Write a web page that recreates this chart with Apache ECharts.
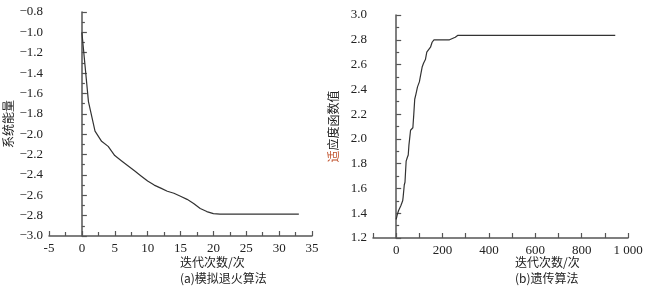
<!DOCTYPE html>
<html>
<head>
<meta charset="utf-8">
<script src="https://cdn.jsdelivr.net/npm/echarts@6/dist/echarts.min.js"></script>
<style>
html,body{margin:0;padding:0;background:#fff;}
#c{width:647px;height:292px;}
</style>
</head>
<body>
<div id="c"></div>
<script>
// (a) simulated annealing
const saIter = [0,1,2,3,4,5,6,7,8,9,10,11,12,13,14,15,16,17,18,19,20,21,22,23,24,25,26,27,28,29,30,31,32,33];
const saEnergy = [-1.00,-1.68,-1.97,-2.07,-2.12,-2.21,-2.26,-2.31,-2.36,-2.41,-2.46,-2.50,-2.53,-2.56,-2.58,-2.61,-2.64,-2.68,-2.73,-2.76,-2.78,-2.785,-2.785,-2.785,-2.785,-2.785,-2.785,-2.785,-2.785,-2.785,-2.785,-2.785,-2.785,-2.785];
// (b) genetic algorithm
const gaIter = [0,5,10,20,28,30,35,38,40,43,48,52,55,58,62,68,72,76,80,85,92,100,106,112,118,126,132,140,148,155,163,175,230,235,255,265,945];
const gaFit = [1.35,1.39,1.42,1.46,1.50,1.53,1.63,1.65,1.72,1.82,1.85,1.87,1.95,2.00,2.07,2.08,2.09,2.20,2.32,2.36,2.42,2.46,2.52,2.58,2.61,2.64,2.70,2.71,2.74,2.78,2.80,2.80,2.80,2.81,2.82,2.835,2.835];
const saXTicks = {min:-5, max:35, step:5};
const saYTicks = {min:-3.0, max:-0.8, step:0.2};
const gaXTicks = {min:-100, max:1000, step:100};
const gaYTicks = {min:1.2, max:3.0, step:0.2};

const serif = 'Liberation Serif';
const cjk = 'Noto Sans CJK SC';
const axisCol = '#555';
const txtCol = '#222';
const wrap = s => s === '' ? '' : '{s|' + s + '}';

function axisBase(){
  return {
    axisLine:{show:true,lineStyle:{color:axisCol,width:1.5}},
    axisTick:{show:true,inside:true,length:5,lineStyle:{color:axisCol,width:1.2}},
    splitLine:{show:false},
    axisLabel:{color:txtCol,fontFamily:serif,fontSize:13,margin:6,
      rich:{s:{fontFamily:serif,fontSize:13,color:txtCol}}}
  };
}

const chart = echarts.init(document.getElementById('c'), null, {renderer:'canvas'});
const option = {
  animation:false,
  backgroundColor:'#fff',
  textStyle:{fontFamily:serif},
  grid:[
    {left:49,right:335,top:12,bottom:56},
    {left:373,right:19,top:15,bottom:54}
  ],
  xAxis:[
    Object.assign(axisBase(),{
      type:'value',gridIndex:0,min:saXTicks.min,max:saXTicks.max,interval:saXTicks.step,
      minorTick:{show:true,splitNumber:2,length:4,lineStyle:{color:axisCol,width:1.2}}
    }),
    Object.assign(axisBase(),{
      type:'value',gridIndex:1,min:gaXTicks.min,max:gaXTicks.max,interval:gaXTicks.step,
    })
  ],
  yAxis:[
    Object.assign(axisBase(),{
      type:'value',gridIndex:0,min:saYTicks.min,max:saYTicks.max,interval:saYTicks.step,
      minorTick:{show:true,splitNumber:2,length:3,lineStyle:{color:axisCol,width:1.2}},
      name:'系统能量',nameLocation:'middle',nameGap:35,nameRotate:90,
      nameTextStyle:{fontFamily:cjk,fontSize:12,color:txtCol}
    }),
    Object.assign(axisBase(),{
      type:'value',gridIndex:1,min:gaYTicks.min,max:gaYTicks.max,interval:gaYTicks.step,
      minorTick:{show:true,splitNumber:2,length:3,lineStyle:{color:axisCol,width:1.2}},
      name:'{r|适}应度函数值',nameLocation:'middle',nameGap:34,nameRotate:90,
      nameTextStyle:{fontFamily:cjk,fontSize:12,color:txtCol,rich:{r:{color:'#c0502a',fontFamily:cjk,fontSize:12}}}
    })
  ],
  series:[
    {type:'line',xAxisIndex:0,yAxisIndex:0,showSymbol:false,smooth:false,
     lineStyle:{color:'#333',width:1.2},
     data:saIter.map((x,i)=>[x,saEnergy[i]])},
    {type:'line',xAxisIndex:1,yAxisIndex:1,showSymbol:false,
     lineStyle:{color:'#333',width:1.2},
     data:gaIter.map((x,i)=>[x,gaFit[i]])}
  ],
  graphic:[
    {type:'text',left:180,top:256,style:{text:'迭代次数/次',font:'12px "Noto Sans CJK SC"',fill:txtCol,textAlign:'center'}},
    {type:'text',left:180,top:272,style:{text:'(a)模拟退火算法',font:'12px "Noto Sans CJK SC"',fill:txtCol,textAlign:'center'}},
    {type:'text',left:515,top:256,style:{text:'迭代次数/次',font:'12px "Noto Sans CJK SC"',fill:txtCol,textAlign:'center'}},
    {type:'text',left:515,top:272,style:{text:'(b)遗传算法',font:'12px "Noto Sans CJK SC"',fill:txtCol,textAlign:'center'}}
  ]
};
option.yAxis[0].axisLabel.formatter = v => wrap((v < 0 ? '\u2212' : '') + Math.abs(v).toFixed(1));
option.yAxis[1].axisLabel.formatter = v => wrap(v.toFixed(1));
option.xAxis[0].axisLabel.formatter = v => wrap(String(v));
option.xAxis[1].axisLabel.formatter = v => (v < 0 || v % 200 !== 0) ? '' : wrap(v === 1000 ? '1 000' : String(v));
chart.setOption(option);
</script>
</body>
</html>
